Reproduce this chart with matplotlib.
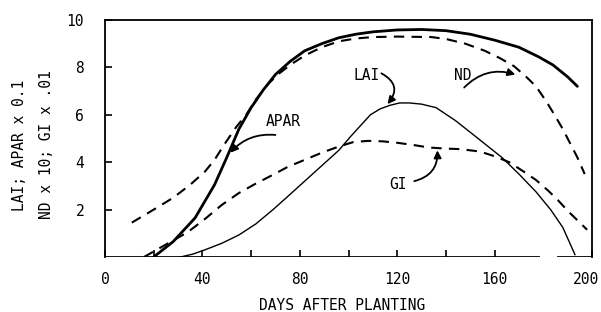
# lai_apar_nd_gi.py
# Re-draws the LAI / APAR / ND / GI versus days after planting chart

import matplotlib
matplotlib.use('Agg')
import matplotlib.pyplot as plt
import matplotlib.transforms as mtransforms

# APAR (thick solid line)
apar_days = [20, 28, 37, 45, 50, 55, 60, 65, 70, 76, 82, 89, 96, 103, 110, 120, 130, 140, 150, 160, 170, 178, 184, 190, 194]
apar_vals = [0, 0.65, 1.65, 3.05, 4.2, 5.4, 6.3, 7.05, 7.7, 8.25, 8.7, 9.0, 9.25, 9.4, 9.5, 9.58, 9.6, 9.55, 9.4, 9.15, 8.85, 8.45, 8.1, 7.6, 7.2]

# ND (upper dashed line)
nd_days = [11, 20, 28, 35, 41, 45, 49, 54, 58, 62, 67, 71, 76, 82, 89, 96, 103, 110, 120, 134, 140, 148, 156, 162, 168, 173, 177, 181, 184, 188, 191, 194, 197]
nd_vals = [1.45, 2.0, 2.5, 3.05, 3.6, 4.1, 4.75, 5.5, 6.0, 6.65, 7.3, 7.7, 8.1, 8.5, 8.85, 9.1, 9.22, 9.28, 9.3, 9.28, 9.2, 9.0, 8.7, 8.4, 8.05, 7.6, 7.2, 6.6, 6.1, 5.4, 4.8, 4.2, 3.5]

# GI (lower dashed line)
gi_days = [16, 22, 28, 34, 41, 48, 55, 62, 69, 75, 82, 89, 96, 102, 108, 114, 120, 127, 133, 139, 146, 154, 160, 166, 172, 177, 182, 186, 190, 194, 198]
gi_vals = [0, 0.35, 0.7, 1.05, 1.6, 2.2, 2.7, 3.1, 3.47, 3.8, 4.1, 4.4, 4.66, 4.85, 4.9, 4.88, 4.82, 4.72, 4.62, 4.58, 4.55, 4.45, 4.25, 4.0, 3.6, 3.25, 2.8, 2.4, 1.95, 1.55, 1.15]

# LAI (thin solid line)
lai_days = [31, 36, 41, 48, 55, 62, 69, 75, 82, 89, 96, 101, 105, 109, 113, 117, 121, 125, 130, 136, 144, 152, 163, 170, 177, 183, 188, 193]
lai_vals = [0, 0.12, 0.3, 0.58, 0.93, 1.4, 2.0, 2.55, 3.2, 3.85, 4.5, 5.1, 5.55, 6.0, 6.25, 6.4, 6.5, 6.5, 6.45, 6.3, 5.75, 5.1, 4.2, 3.5, 2.75, 2.0, 1.25, 0.1]

x_ticks = [0, 40, 80, 120, 160, 200]
x_minor = [20, 60, 100, 140]
y_ticks = [2, 4, 6, 8, 10]

plt.rcParams['font.family'] = ['DejaVu Sans Mono']
plt.rcParams['font.size'] = 10.5

fig = plt.figure(figsize=(6.01, 3.12), dpi=100)
ax = fig.add_axes([105 / 601, 55 / 312, 487 / 601, 237 / 312])

dash = (0, (5, 3.5))
ax.plot(apar_days, apar_vals, color='black', lw=2.0, solid_capstyle='round')
ax.plot(nd_days, nd_vals, color='black', lw=1.5, linestyle=dash)
ax.plot(gi_days, gi_vals, color='black', lw=1.5, linestyle=dash)
ax.plot(lai_days, lai_vals, color='black', lw=1.0)

ax.set_xlim(0, 200)
ax.set_ylim(0, 10)
ax.set_xticks(x_ticks)
ax.set_xticks(x_minor, minor=True)
ax.set_yticks(y_ticks)
ax.tick_params(axis='both', which='both', direction='in', length=5, width=1.2, top=False, right=False)
ax.tick_params(axis='x', pad=11)
ax.tick_params(axis='y', pad=15)

# last x label sits a little left of the corner
last = ax.get_xticklabels()[-1]
last.set_transform(last.get_transform() + mtransforms.ScaledTranslation(-6 / 100, 0, fig.dpi_scale_trans))

# bottom axis line has a small break near day 180
ax.spines['bottom'].set_visible(False)
ax.axhline(0, xmin=0, xmax=0.89, color='black', lw=2.0)
ax.axhline(0, xmin=0.93, xmax=1, color='black', lw=2.0)
for s in ['left', 'top', 'right']:
    ax.spines[s].set_linewidth(1.3)

# labels with hooked arrows
arrow = dict(arrowstyle='-|>', color='black', lw=1.3, mutation_scale=11, shrinkA=0, shrinkB=0)
ax.text(73, 5.7, 'APAR', ha='center', va='center')
ax.annotate('', xy=(51.5, 4.4), xytext=(70, 5.15),
            arrowprops=dict(arrow, connectionstyle='arc3,rad=0.25'))
ax.text(107.5, 7.65, 'LAI', ha='center', va='center')
ax.annotate('', xy=(116, 6.45), xytext=(113.5, 7.75),
            arrowprops=dict(arrow, connectionstyle='arc3,rad=-0.6'))
ax.text(147, 7.65, 'ND', ha='center', va='center')
ax.annotate('', xy=(168.5, 7.7), xytext=(147.5, 7.15),
            arrowprops=dict(arrow, connectionstyle='arc3,rad=-0.3'))
ax.text(120.5, 3.05, 'GI', ha='center', va='center')
ax.annotate('', xy=(136.5, 4.5), xytext=(127, 3.2),
            arrowprops=dict(arrow, connectionstyle='arc3,rad=0.4'))

fig.text(20 / 601, 1 - 145 / 312, 'LAI; APAR x 0.1', rotation=90, ha='center', va='center')
fig.text(47 / 601, 1 - 145 / 312, 'ND x 10; GI x .01', rotation=90, ha='center', va='center')
fig.text(342 / 601, 1 - 305 / 312, 'DAYS AFTER PLANTING', ha='center', va='center')

fig.savefig('out.png', dpi=100)
